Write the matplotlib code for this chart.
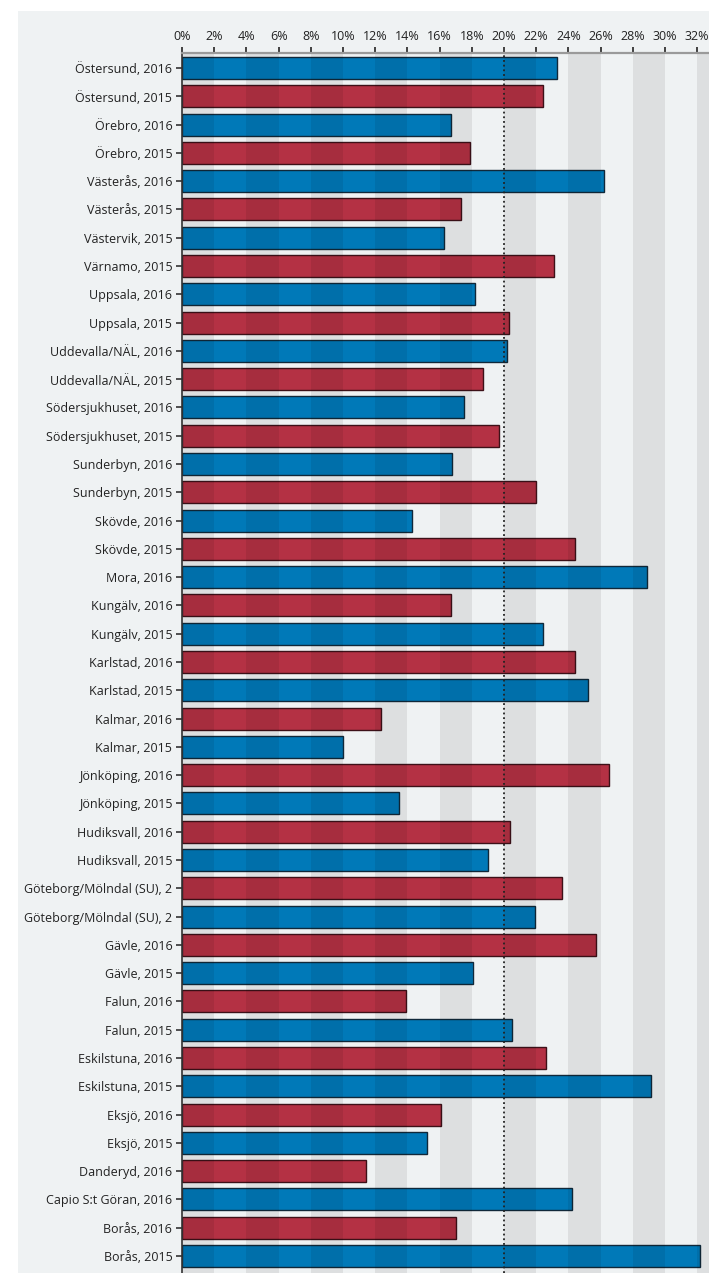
import matplotlib
matplotlib.use("Agg")
import matplotlib.pyplot as plt
from matplotlib.patches import Rectangle

plt.rcParams['font.family'] = ['Open Sans', 'DejaVu Sans']

labels = [
    "Östersund, 2016", "Östersund, 2015", "Örebro, 2016", "Örebro, 2015",
    "Västerås, 2016", "Västerås, 2015", "Västervik, 2015", "Värnamo, 2015",
    "Uppsala, 2016", "Uppsala, 2015", "Uddevalla/NÄL, 2016", "Uddevalla/NÄL, 2015",
    "Södersjukhuset, 2016", "Södersjukhuset, 2015", "Sunderbyn, 2016", "Sunderbyn, 2015",
    "Skövde, 2016", "Skövde, 2015", "Mora, 2016", "Kungälv, 2016",
    "Kungälv, 2015", "Karlstad, 2016", "Karlstad, 2015", "Kalmar, 2016",
    "Kalmar, 2015", "Jönköping, 2016", "Jönköping, 2015", "Hudiksvall, 2016",
    "Hudiksvall, 2015", "Göteborg/Mölndal (SU), 2", "Göteborg/Mölndal (SU), 2", "Gävle, 2016",
    "Gävle, 2015", "Falun, 2016", "Falun, 2015", "Eskilstuna, 2016",
    "Eskilstuna, 2015", "Eksjö, 2016", "Eksjö, 2015", "Danderyd, 2016",
    "Capio S:t Göran, 2016", "Borås, 2016", "Borås, 2015",
]

values = [
    23.3, 22.4, 16.7, 17.9,
    26.2, 17.3, 16.3, 23.1,
    18.2, 20.3, 20.2, 18.7,
    17.5, 19.7, 16.8, 22.0,
    14.3, 24.4, 28.9, 16.7,
    22.4, 24.4, 25.2, 12.35,
    10.0, 26.5, 13.5, 20.4,
    19.0, 23.6, 21.9, 25.7,
    18.1, 13.9, 20.5, 22.6,
    29.1, 16.1, 15.2, 11.4,
    24.2, 17.0, 32.2,
]

reference_line = 20
x_ticks = list(range(0, 33, 2))

blue, red = "#0079b8", "#b43144"
blue_edge, red_edge = "#10283a", "#3d1118"
colors = [blue if i % 2 == 0 else red for i in range(len(values))]
edges = [blue_edge if i % 2 == 0 else red_edge for i in range(len(values))]

W, H = 709, 1273
fig = plt.figure(figsize=(W / 100, H / 100), dpi=100)
fig.patch.set_facecolor("white")
fig.patches.append(Rectangle((18 / W, 0), 1 - 18 / W, 1 - 11 / H,
                             transform=fig.transFigure, color="#eff2f3",
                             zorder=-10, lw=0))

x0, ytop = 182, 53
ax = fig.add_axes([x0 / W, 0, 1 - x0 / W, (H - ytop) / H])
ax.set_zorder(1)
ax.set_facecolor("none")

px_per_unit = 16.1
ax.set_xlim(0, (W - x0) / px_per_unit)
row = (1256 - 68) / (len(values) - 1)
ax.set_ylim(len(values) - 1 + (H - 1256) / row, -(68 - ytop) / row)

ypos = list(range(len(values)))
ax.barh(ypos, values, height=0.78, color=colors, edgecolor=edges,
        linewidth=1.0, zorder=2)

# alternating column shading over the plot area
for k in range(0, 36, 4):
    ax.axvspan(k, k + 2, color="black", alpha=0.075, lw=0, zorder=3)

ax.axvline(reference_line, color="#222222", ls=(0, (1, 1.6)), lw=1.3, zorder=4)

for s in ("right", "bottom"):
    ax.spines[s].set_visible(False)
ax.spines["top"].set_color("#9a9a9a")
ax.spines["top"].set_linewidth(1.6)
ax.spines["top"].set_zorder(5)
ax.spines["left"].set_color("#333333")
ax.spines["left"].set_linewidth(1.2)
ax.spines["left"].set_zorder(5)

ax.xaxis.tick_top()
ax.set_xticks(x_ticks)
ax.set_xticklabels([f"{v}%" for v in x_ticks])
ax.set_yticks(ypos)
ax.set_yticklabels(labels)
ax.tick_params(axis="x", length=4, width=1.3, color="#333333",
               labelsize=9, labelcolor="#222222", pad=3)
ax.tick_params(axis="y", length=4, width=1.2, color="#333333",
               labelsize=9, labelcolor="#222222", pad=3)

fig.savefig("out.png", dpi=100, facecolor="white")
